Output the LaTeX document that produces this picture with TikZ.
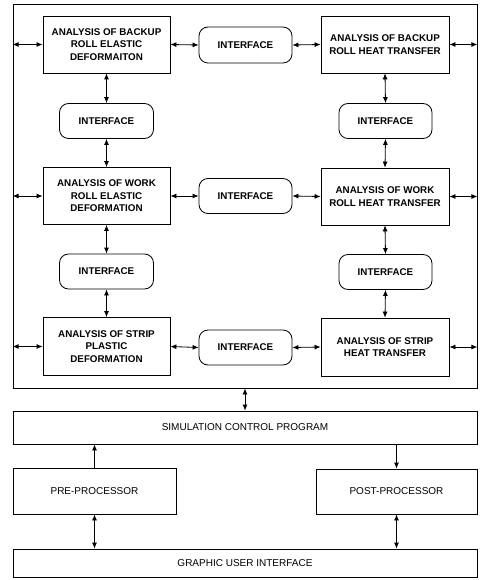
\documentclass[tikz,border=0pt]{standalone}
\usepackage{fontspec}
\setmainfont{Liberation Sans}
\usetikzlibrary{arrows.meta}
\begin{document}
\begin{tikzpicture}[x=1pt,y=-1pt,
  font=\fontsize{10}{12.5}\selectfont,
  box/.style={draw,line width=0.8pt,align=center,inner sep=0pt},
  topbox/.style={box,font=\fontsize{9.8}{12.5}\selectfont\bfseries},
  iface/.style={draw,line width=0.8pt,rounded corners=9pt,align=center,inner sep=0pt,minimum width=93pt,minimum height=35pt,font=\fontsize{9.8}{12.5}\selectfont\bfseries},
  dbl/.style={line width=0.8pt,{Latex[length=6pt,width=5pt]}-{Latex[length=6pt,width=5pt]}},
  sgl/.style={line width=0.8pt,-{Latex[length=6pt,width=5pt]}}]
\useasboundingbox (0,0) rectangle (479,580);
\node[box,minimum width=464pt,minimum height=384pt] (outer) at (245,196) {};
% left column
\node[topbox,minimum width=127pt,minimum height=57pt] (b1) at (106.5,44.5) {ANALYSIS OF BACKUP\\ROLL ELASTIC\\DEFORMAITON};
\node[iface,minimum width=94pt] (iL1) at (106.5,121) {INTERFACE};
\node[topbox,minimum width=127pt,minimum height=57pt] (b3) at (106.5,196) {ANALYSIS OF WORK\\ROLL ELASTIC\\DEFORMATION};
\node[iface,minimum width=94pt] (iL2) at (106.5,271.5) {INTERFACE};
\node[topbox,minimum width=127pt,minimum height=58pt] (b5) at (106.5,346.5) {ANALYSIS OF STRIP\\PLASTIC\\DEFORMATION};
% right column
\node[topbox,minimum width=128pt,minimum height=57pt] (b2) at (385,44.5) {ANALYSIS OF BACKUP\\ROLL HEAT TRANSFER};
\node[iface] (iR1) at (385.5,121) {INTERFACE};
\node[topbox,minimum width=128pt,minimum height=57pt] (b4) at (385,196.5) {ANALYSIS OF WORK\\ROLL HEAT TRANSFER};
\node[iface] (iR2) at (385.5,272) {INTERFACE};
\node[topbox,minimum width=128pt,minimum height=58pt] (b6) at (385,347) {ANALYSIS OF STRIP\\HEAT TRANSFER};
% middle interfaces
\node[iface,minimum height=36pt] (i12) at (245.5,45) {INTERFACE};
\node[iface] (i34) at (245.5,196) {INTERFACE};
\node[iface] (i56) at (245.5,347.5) {INTERFACE};
% lower blocks
\node[box,minimum width=464pt,minimum height=33pt] (sim) at (245,427.5) {SIMULATION CONTROL PROGRAM};
\node[box,minimum width=163pt,minimum height=46pt] (pre) at (94.5,491) {PRE-PROCESSOR};
\node[box,minimum width=161pt,minimum height=45pt] (post) at (396.5,491.5) {POST-PROCESSOR};
\node[box,minimum width=464pt,minimum height=28pt] (gui) at (245,563) {GRAPHIC USER INTERFACE};
% horizontal connectors
\foreach \a/\b in {b1/i12,i12/b2,b3/i34,i34/b4,b5/i56,i56/b6}
  \draw[dbl] (\a.east) -- (\b.west);
% vertical connectors
\foreach \a/\b in {b1/iL1,iL1/b3,b3/iL2,iL2/b5,b2/iR1,iR1/b4,b4/iR2,iR2/b6}
  \draw[dbl] (\a.south) -- (\b.north);
% side connectors to outer frame
\foreach \n in {b1,b3,b5}
  \draw[dbl] (\n.west -| outer.west) -- (\n.west);
\foreach \n in {b2,b4,b6}
  \draw[dbl] (\n.east) -- (\n.east -| outer.east);
% lower connectors
\draw[dbl] (outer.south) -- (sim.north);
\draw[sgl] (pre.north) -- (pre.north |- sim.south);
\draw[dbl] (pre.south) -- (pre.south |- gui.north);
\draw[sgl] (post.north |- sim.south) -- (post.north);
\draw[dbl] (post.south) -- (post.south |- gui.north);
\end{tikzpicture}
\end{document}
